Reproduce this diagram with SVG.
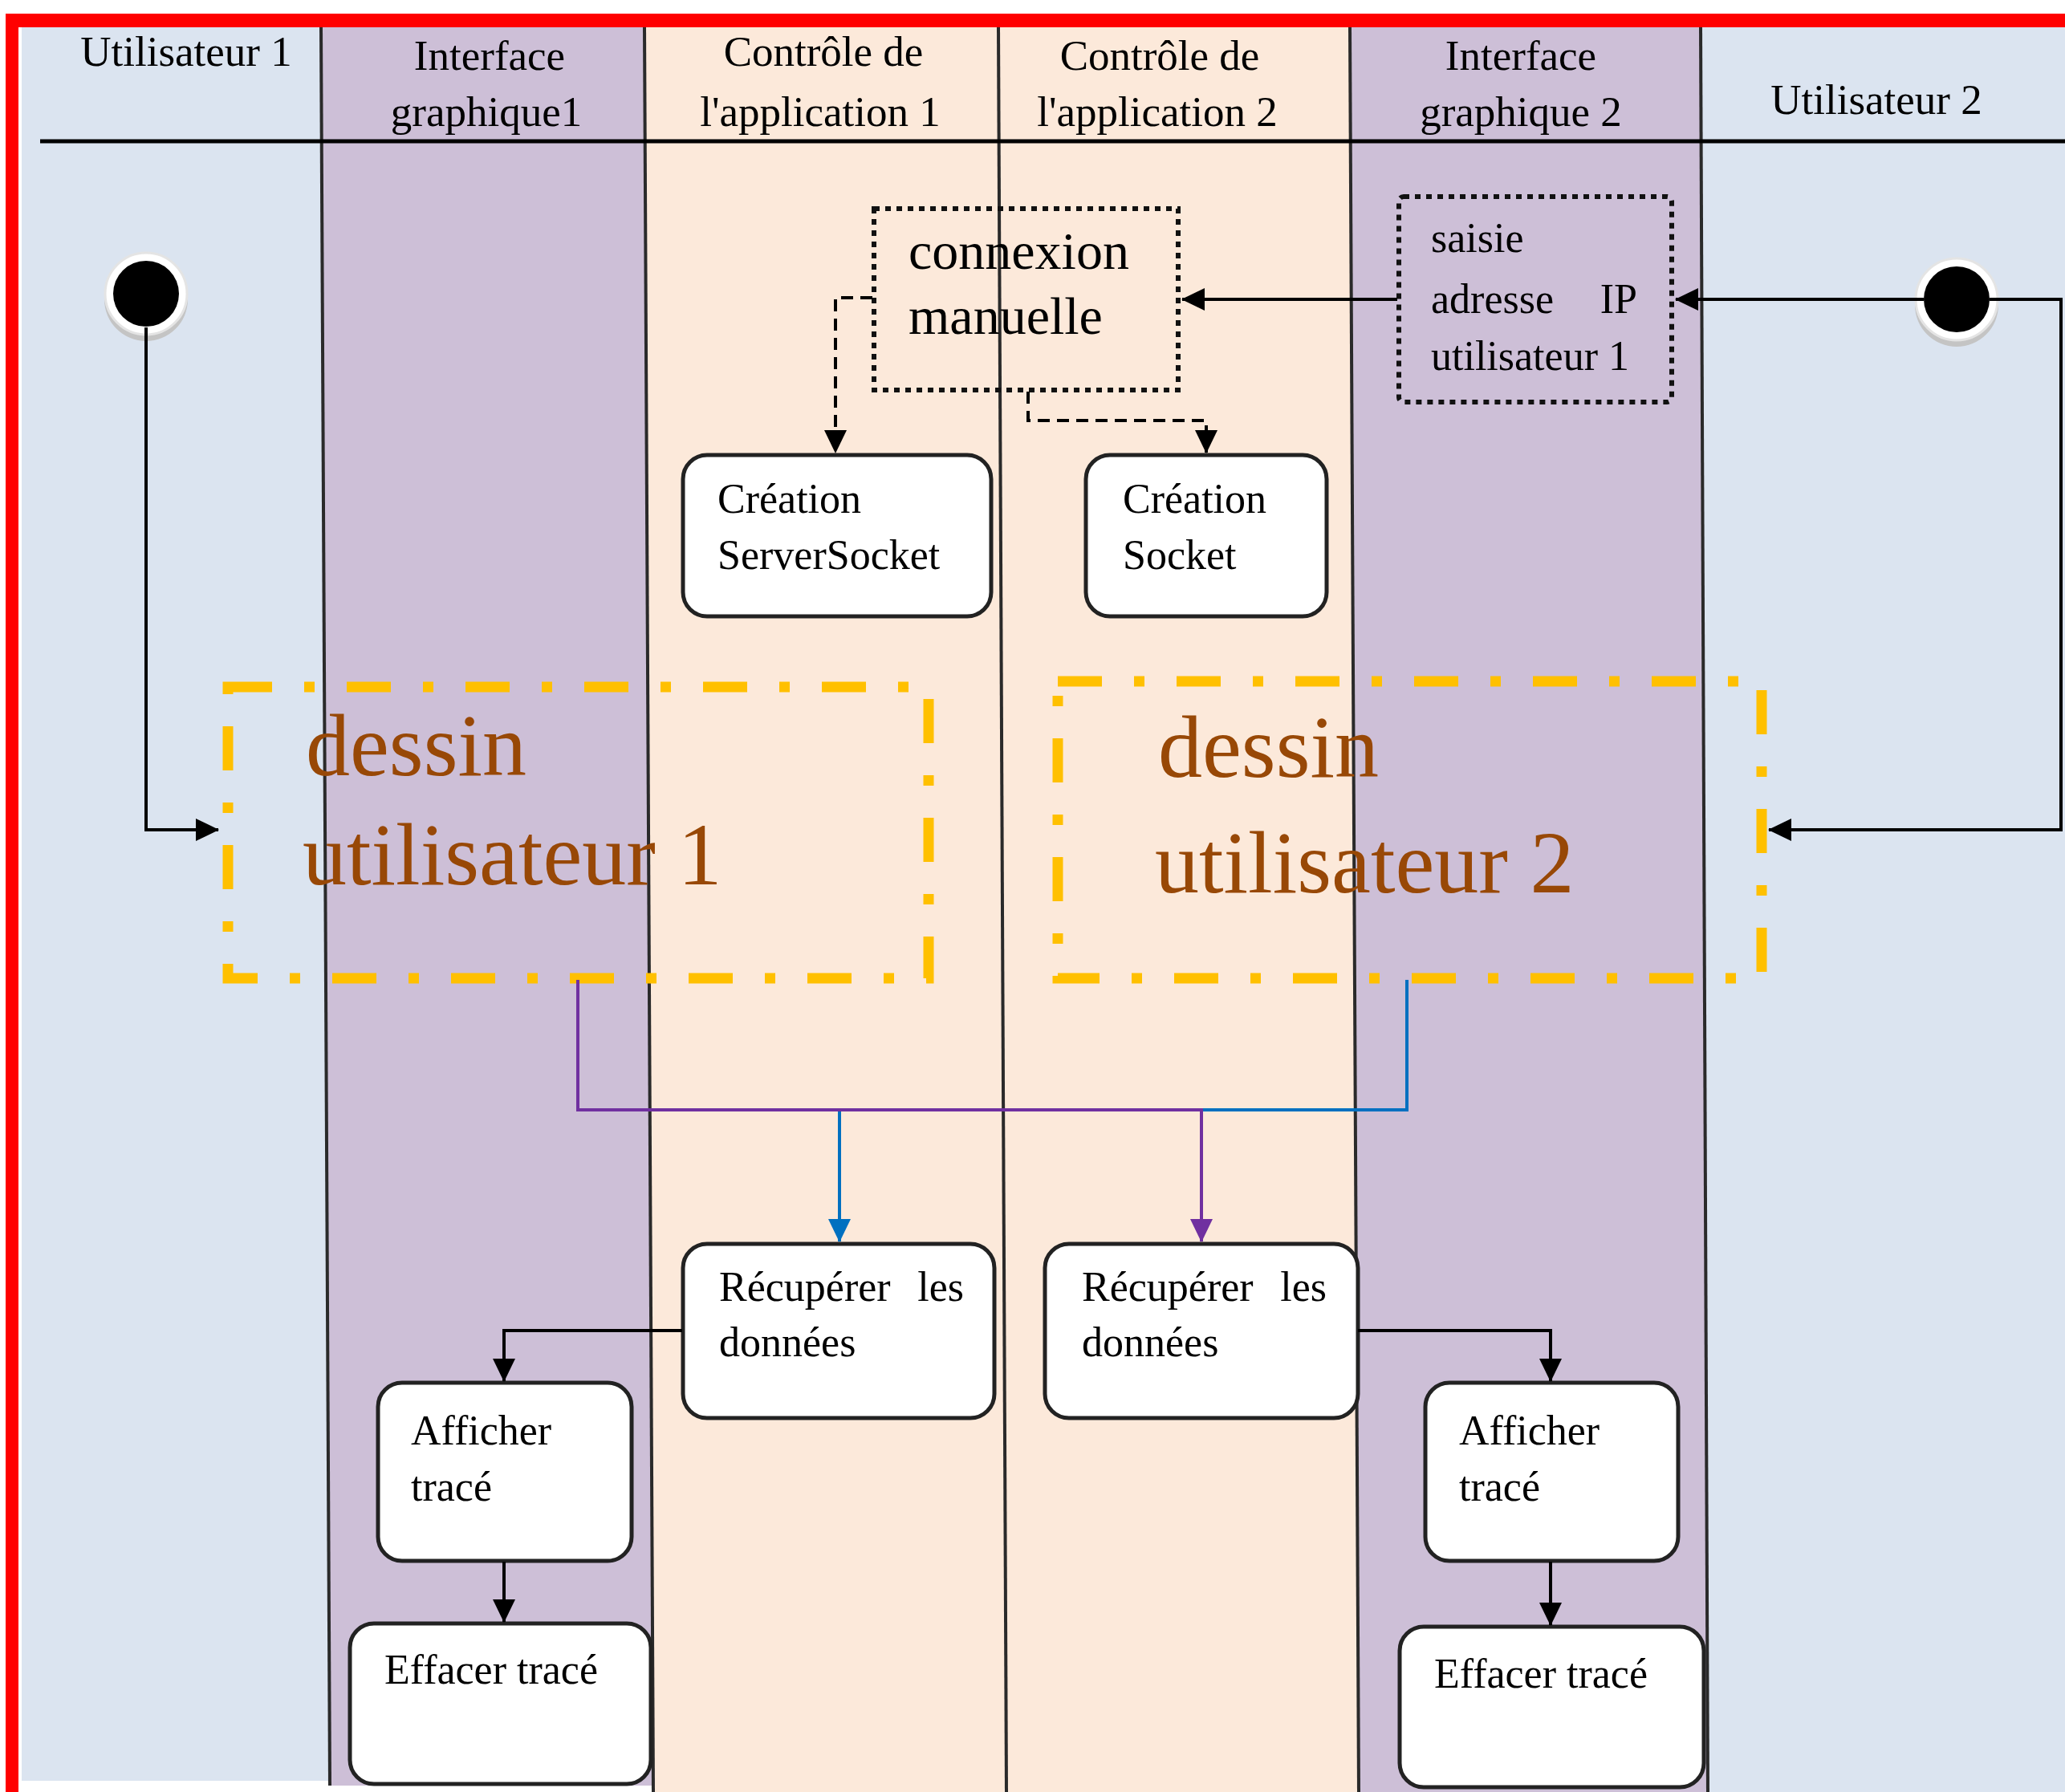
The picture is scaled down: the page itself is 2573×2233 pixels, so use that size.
<svg xmlns="http://www.w3.org/2000/svg" width="2573" height="2233" viewBox="0 0 2573 2233">
<defs>
<style>
.hdr{font-family:"Liberation Serif","Times New Roman",serif;font-size:53px;fill:#000;text-anchor:middle}
.bt{font-family:"Liberation Serif","Times New Roman",serif;font-size:52px;fill:#000}
.big{font-family:"Liberation Serif","Times New Roman",serif;font-size:66px;fill:#000}
.des{font-family:"Liberation Serif","Times New Roman",serif;font-size:110px;fill:#984806}
.box{fill:#fff;stroke:#222;stroke-width:5}
.shadow{fill:none;stroke:#b0a8a0;stroke-width:5}
.dot{fill:none;stroke:#111;stroke-width:6;stroke-dasharray:7 7}
.dash{fill:none;stroke:#FFC000;stroke-width:13;stroke-dasharray:55 40 13 40}
.lane{stroke:#2a2a2a;stroke-width:4}
.c{fill:none;stroke:#000;stroke-width:4}
.cd{fill:none;stroke:#000;stroke-width:4;stroke-dasharray:15 9}
</style>
<marker id="ah" markerWidth="30" markerHeight="30" refX="28" refY="15" orient="auto" markerUnits="userSpaceOnUse"><path d="M0,1 L29,15 L0,29 Z" fill="#000"/></marker>
<marker id="ahb" markerWidth="30" markerHeight="30" refX="28" refY="15" orient="auto" markerUnits="userSpaceOnUse"><path d="M0,1 L29,15 L0,29 Z" fill="#0070C0"/></marker>
<marker id="ahp" markerWidth="30" markerHeight="30" refX="28" refY="15" orient="auto" markerUnits="userSpaceOnUse"><path d="M0,1 L29,15 L0,29 Z" fill="#7030A0"/></marker>
</defs>
<rect width="2573" height="2233" fill="#fff"/>
<g id="lanes">
<polygon points="27,34 400,34 411,2219 27,2219" fill="#DBE4F0"/>
<polygon points="400,34 803,34 814,2225 411,2225" fill="#CDBFD7"/>
<polygon points="803,34 1244,34 1254,2233 814,2233" fill="#FCE9DA"/>
<polygon points="1244,34 1682,34 1693,2233 1254,2233" fill="#FCE9DA"/>
<polygon points="1682,34 2119,34 2128,2233 1693,2233" fill="#CDBFD7"/>
<polygon points="2119,34 2573,34 2573,2233 2128,2233" fill="#DBE4F0"/>
<line class="lane" x1="400" y1="34" x2="411" y2="2225"/>
<line class="lane" x1="803" y1="34" x2="814" y2="2233"/>
<line class="lane" x1="1244" y1="34" x2="1254" y2="2233"/>
<line class="lane" x1="1682" y1="34" x2="1693" y2="2233"/>
<line class="lane" x1="2119" y1="34" x2="2128" y2="2233"/>
<line x1="50" y1="176" x2="2573" y2="176" stroke="#000" stroke-width="5"/>
<rect x="7" y="17" width="2566" height="17" fill="#FF0000"/>
<rect x="7" y="17" width="16" height="2216" fill="#FF0000"/>
<text class="hdr" x="232" y="82">Utilisateur 1</text>
<text class="hdr" x="610" y="87">Interface</text>
<text class="hdr" x="606" y="157">graphique1</text>
<text class="hdr" x="1026" y="82">Contrôle de</text>
<text class="hdr" x="1022" y="157">l'application 1</text>
<text class="hdr" x="1445" y="87">Contrôle de</text>
<text class="hdr" x="1442" y="157">l'application 2</text>
<text class="hdr" x="1895" y="87">Interface</text>
<text class="hdr" x="1895" y="157">graphique 2</text>
<text class="hdr" x="2338" y="142">Utilisateur 2</text>
</g>
<g id="start1">
<circle cx="182" cy="373" r="52" fill="#c4c4c4"/>
<circle cx="182" cy="366" r="51" fill="#fff" stroke="#e4e4e4" stroke-width="3"/>
<circle cx="182" cy="366" r="41" fill="#000"/>
</g>
<g id="start2">
<circle cx="2438" cy="380" r="52" fill="#c4c4c4"/>
<circle cx="2438" cy="373" r="51" fill="#fff" stroke="#e4e4e4" stroke-width="3"/>
<circle cx="2438" cy="373" r="41" fill="#000"/>
</g>
<g id="connexion">
<rect class="dot" x="1089" y="260" width="379" height="226"/>
<text class="big" x="1132" y="335">connexion</text>
<text class="big" x="1132" y="416">manuelle</text>
</g>
<g id="saisie">
<rect class="dot" x="1743" y="245" width="340" height="256" rx="6"/>
<text class="bt" x="1783" y="314">saisie</text>
<text class="bt" x="1783" y="390">adresse</text>
<text class="bt" x="2040" y="390" text-anchor="end">IP</text>
<text class="bt" x="1783" y="461">utilisateur 1</text>
</g>
<g id="serversocket">
<rect class="box" x="851" y="567" width="384" height="201" rx="30"/>
<text class="bt" x="894" y="639">Création</text>
<text class="bt" x="894" y="709">ServerSocket</text>
</g>
<g id="socket">
<rect class="box" x="1353" y="567" width="300" height="201" rx="30"/>
<text class="bt" x="1399" y="639">Création</text>
<text class="bt" x="1399" y="709">Socket</text>
</g>
<g id="dessin1">
<rect class="dash" x="284" y="856" width="873" height="363"/>
<text class="des" x="381" y="966">dessin</text>
<text class="des" x="377" y="1102">utilisateur 1</text>
</g>
<g id="dessin2">
<rect class="dash" x="1318" y="849" width="877" height="370"/>
<text class="des" x="1443" y="968">dessin</text>
<text class="des" x="1439" y="1112">utilisateur 2</text>
</g>
<g id="recuperer1">
<rect class="box" x="851" y="1550" width="388" height="217" rx="30"/>
<text class="bt" x="896" y="1621">Récupérer</text>
<text class="bt" x="1201" y="1621" text-anchor="end">les</text>
<text class="bt" x="896" y="1690">données</text>
</g>
<g id="recuperer2">
<rect class="box" x="1302" y="1550" width="390" height="217" rx="30"/>
<text class="bt" x="1348" y="1621">Récupérer</text>
<text class="bt" x="1653" y="1621" text-anchor="end">les</text>
<text class="bt" x="1348" y="1690">données</text>
</g>
<g id="afficher1">
<rect class="box" x="471" y="1723" width="316" height="222" rx="30"/>
<text class="bt" x="512" y="1800">Afficher</text>
<text class="bt" x="512" y="1870">tracé</text>
</g>
<g id="afficher2">
<rect class="box" x="1776" y="1723" width="315" height="222" rx="30"/>
<text class="bt" x="1818" y="1800">Afficher</text>
<text class="bt" x="1818" y="1870">tracé</text>
</g>
<g id="effacer1">
<rect class="box" x="436" y="2023" width="375" height="200" rx="30"/>
<text class="bt" x="479" y="2098">Effacer tracé</text>
</g>
<g id="effacer2">
<rect class="box" x="1744" y="2027" width="379" height="200" rx="30"/>
<text class="bt" x="1787" y="2103">Effacer tracé</text>
</g>
<g id="connectors">
<path class="c" d="M182,408 V1034 H272" marker-end="url(#ah)"/>
<path class="c" d="M2397,373 H2088" marker-end="url(#ah)"/>
<path class="c" d="M2479,373 H2568 V1034 H2204" marker-end="url(#ah)"/>
<path class="c" d="M1741,373 H1473" marker-end="url(#ah)"/>
<path class="cd" d="M1087,371 H1041 V564" marker-end="url(#ah)"/>
<path class="cd" d="M1281,488 V524 H1503 V564" marker-end="url(#ah)"/>
<path d="M1753,1221 V1383 H1046 V1547" fill="none" stroke="#0070C0" stroke-width="4" marker-end="url(#ahb)"/>
<path d="M720,1221 V1383 H1497 V1547" fill="none" stroke="#7030A0" stroke-width="4" marker-end="url(#ahp)"/>
<path class="c" d="M850,1658 H628 V1721" marker-end="url(#ah)"/>
<path class="c" d="M628,1946 V2021" marker-end="url(#ah)"/>
<path class="c" d="M1692,1658 H1932 V1721" marker-end="url(#ah)"/>
<path class="c" d="M1932,1946 V2025" marker-end="url(#ah)"/>
</g>
</svg>
